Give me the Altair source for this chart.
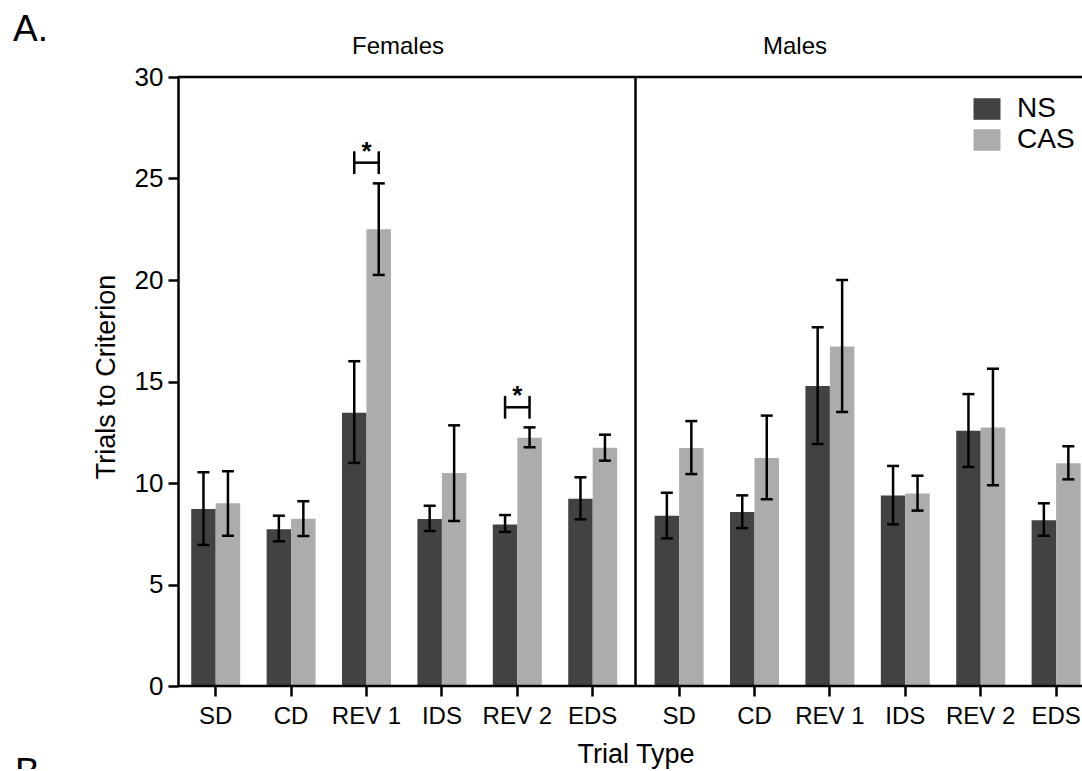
import altair as alt
import pandas as pd

# ---------------- data ----------------
trials = ["SD", "CD", "REV 1", "IDS", "REV 2", "EDS"]
groups = ["NS", "CAS"]
colors = ["#424242", "#acacac"]

fem_ns_mean = [8.72, 7.72, 13.46, 8.23, 7.96, 9.23]
fem_ns_hi = [10.53, 8.39, 16.0, 8.88, 8.42, 10.28]
fem_ns_lo = [6.95, 7.13, 10.99, 7.64, 7.59, 8.21]

fem_cas_mean = [9.0, 8.24, 22.5, 10.49, 12.23, 11.74]
fem_cas_hi = [10.58, 9.1, 24.76, 12.84, 12.74, 12.38]
fem_cas_lo = [7.4, 7.39, 20.25, 8.13, 11.76, 11.1]

male_ns_mean = [8.39, 8.57, 14.78, 9.38, 12.58, 8.16]
male_ns_hi = [9.52, 9.39, 17.67, 10.84, 14.38, 9.0]
male_ns_lo = [7.27, 7.78, 11.92, 7.96, 10.79, 7.4]

male_cas_mean = [11.72, 11.23, 16.73, 9.48, 12.73, 10.97]
male_cas_hi = [13.05, 13.32, 20.0, 10.36, 15.63, 11.81]
male_cas_lo = [10.44, 9.2, 13.5, 8.64, 9.89, 10.18]

# significance brackets (Females)
sig_trials = ["REV 1", "REV 2"]
sig_y = [25.78, 13.73]
sig_half = 0.56

# ---------------- build tables ----------------
series = {
    ("Females", "NS"): (fem_ns_mean, fem_ns_lo, fem_ns_hi),
    ("Females", "CAS"): (fem_cas_mean, fem_cas_lo, fem_cas_hi),
    ("Males", "NS"): (male_ns_mean, male_ns_lo, male_ns_hi),
    ("Males", "CAS"): (male_cas_mean, male_cas_lo, male_cas_hi),
}
rows = []
for (sex, grp), (m, lo, hi) in series.items():
    for t, a, b, c in zip(trials, m, lo, hi):
        rows.append({"Sex": sex, "Trial": t, "Group": grp, "Mean": a, "Lo": b, "Hi": c})
df = pd.DataFrame(rows)

sig_df = pd.DataFrame({"Trial": sig_trials, "Y": sig_y})
sig_ends = pd.DataFrame(
    [{"Trial": t, "Group": g, "Lo": y - sig_half, "Hi": y + sig_half}
     for t, y in zip(sig_trials, sig_y) for g in groups]
)

W, H = 904, 609
STEP = 75.4
fem_range = [0, 6 * STEP]
male_range = [463.4, 463.4 + 6 * STEP]

LW = 2.5
yscale = alt.Scale(domain=[0, 30], nice=False, zero=True)
yaxis = alt.Axis(
    title=None, values=[0, 5, 10, 15, 20, 25, 30], grid=False,
    labelFontSize=26, labelColor="black", labelPadding=5,
    tickSize=10, tickWidth=LW, tickColor="black",
    domainWidth=LW, domainColor="black",
)


def xenc(rng):
    return alt.X(
        "Trial:N", sort=trials,
        scale=alt.Scale(domain=trials, range=rng, paddingInner=0, paddingOuter=0),
        axis=alt.Axis(
            orient="bottom", title=None, domain=False, labelAngle=0, grid=False,
            labelFontSize=24, labelColor="black", labelPadding=8,
            tickSize=10, tickWidth=LW, tickColor="black",
        ),
    )


xoff = alt.XOffset(
    "Group:N", sort=groups,
    scale=alt.Scale(domain=groups, paddingInner=0, paddingOuter=0.54),
)


def sex_layer(sex, rng, extra=()):
    d = df[df.Sex == sex]
    x = xenc(rng)
    bars = alt.Chart(d).mark_bar().encode(
        x=x, xOffset=xoff,
        y=alt.Y("Mean:Q", scale=yscale, axis=yaxis),
        color=alt.Color(
            "Group:N", sort=groups,
            scale=alt.Scale(domain=groups, range=colors),
            legend=alt.Legend(
                title=None, orient="none", legendX=795, legendY=18,
                symbolType="M-1,-0.8H1V0.8H-1Z", symbolSize=729,
                symbolStrokeWidth=0, labelFontSize=28, labelColor="black",
                labelOffset=16, rowPadding=3, padding=0,
            ),
        ),
    )
    err = alt.Chart(d).mark_rule(color="black", strokeWidth=LW).encode(
        x=x, xOffset=xoff,
        y=alt.Y("Lo:Q", scale=yscale, axis=yaxis), y2="Hi:Q",
    )
    cap_hi = alt.Chart(d).mark_tick(
        orient="horizontal", size=12, thickness=LW, color="black", opacity=1
    ).encode(x=x, xOffset=xoff, y=alt.Y("Hi:Q", scale=yscale, axis=yaxis))
    cap_lo = alt.Chart(d).mark_tick(
        orient="horizontal", size=12, thickness=LW, color="black", opacity=1
    ).encode(x=x, xOffset=xoff, y=alt.Y("Lo:Q", scale=yscale, axis=yaxis))
    layers = [bars, err, cap_hi, cap_lo]
    for e in extra:
        layers.append(e(x))
    return alt.layer(*layers)


def sig_bar(x):
    return alt.Chart(sig_df).mark_tick(
        orient="horizontal", size=24.5, thickness=LW, color="black", opacity=1
    ).encode(x=x, y=alt.Y("Y:Q", scale=yscale, axis=yaxis))


def sig_ends_layer(x):
    return alt.Chart(sig_ends).mark_rule(color="black", strokeWidth=LW).encode(
        x=x, xOffset=xoff, y=alt.Y("Lo:Q", scale=yscale, axis=yaxis), y2="Hi:Q"
    )


def sig_star(x):
    return alt.Chart(sig_df).mark_text(
        text="*", fontSize=26, fontWeight="bold", color="black", dy=-3,
        baseline="alphabetic", align="center",
    ).encode(x=x, y=alt.Y("Y:Q", scale=yscale, axis=yaxis))


fem = sex_layer("Females", fem_range, extra=(sig_bar, sig_ends_layer, sig_star))
male = sex_layer("Males", male_range)

one = pd.DataFrame({"k": [0]})
top_line = alt.Chart(one).mark_rule(color="black", strokeWidth=LW).encode(
    x=alt.value(0), x2=alt.value(W), y=alt.value(0))
bottom_line = alt.Chart(one).mark_rule(color="black", strokeWidth=LW).encode(
    x=alt.value(0), x2=alt.value(W), y=alt.value(H))
divider = alt.Chart(one).mark_rule(color="black", strokeWidth=LW).encode(
    x=alt.value(457.5), y=alt.value(0), y2=alt.value(H))


def label(text, x, y, size, align="center", angle=0):
    return alt.Chart(one).mark_text(
        text=text, fontSize=size, color="black", align=align,
        baseline="alphabetic", angle=angle,
    ).encode(x=alt.value(x), y=alt.value(y))


texts = [
    label("A.", -165, -36, 37, align="left"),
    label("Females", 220, -23, 24),
    label("Males", 617, -23, 24),
    label("Trial Type", 458, 686, 27),
    label("Trials to Criterion", -63, 300, 27, angle=270),
    label("B", -163, 707, 37, align="left"),
]

chart = alt.layer(fem, male, top_line, bottom_line, divider, *texts).resolve_scale(
    x="independent", xOffset="independent"
).properties(
    width=W, height=H,
    autosize=alt.AutoSizeParams(type="none"),
    padding={"left": 178, "top": 77, "right": 0, "bottom": 83},
).configure_view(stroke=None).configure(font="Liberation Sans")

chart.save("out.html", embed_options={"renderer": "svg", "actions": False})
